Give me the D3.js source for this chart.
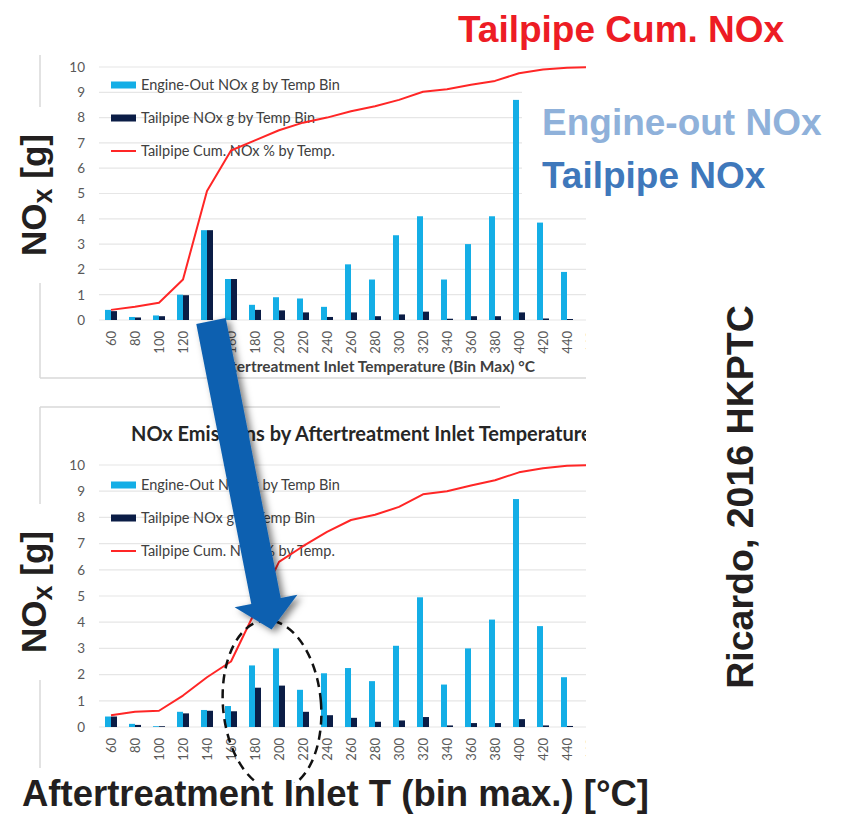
<!DOCTYPE html>
<html>
<head>
<meta charset="utf-8">
<script src="https://cdn.jsdelivr.net/npm/d3@7"></script>
<style>
html, body { margin: 0; padding: 0; background: #fff; }
svg { display: block; }
</style>
</head>
<body>
<svg id="chart" width="842" height="816"></svg>
<script>
// Temperature bins (bin max, deg C). The last bin lies past the cropped edge.
var bins = [60, 80, 100, 120, 140, 160, 180, 200, 220, 240, 260, 280, 300, 320, 340, 360, 380, 400, 420, 440, 460];

// Upper chart (baseline calibration)
var topEngineOut = [0.4, 0.12, 0.18, 1.0, 3.55, 1.62, 0.6, 0.9, 0.85, 0.52, 2.2, 1.6, 3.35, 4.1, 1.6, 3.0, 4.1, 8.7, 3.85, 1.9];
var topTailpipe = [0.35, 0.1, 0.15, 0.98, 3.55, 1.62, 0.4, 0.38, 0.3, 0.12, 0.3, 0.15, 0.22, 0.33, 0.05, 0.15, 0.15, 0.3, 0.06, 0.04];
var topCumulative = [0.4, 0.52, 0.68, 1.6, 5.1, 6.7, 7.1, 7.5, 7.8, 8.0, 8.25, 8.45, 8.7, 9.02, 9.12, 9.3, 9.45, 9.75, 9.9, 9.97, 10.0];

// Lower chart (modified calibration)
var botEngineOut = [0.4, 0.12, 0.03, 0.58, 0.65, 0.8, 2.35, 3.0, 1.42, 2.05, 2.25, 1.75, 3.1, 4.95, 1.62, 3.0, 4.1, 8.7, 3.85, 1.9];
var botTailpipe = [0.4, 0.08, 0.03, 0.52, 0.62, 0.6, 1.5, 1.58, 0.58, 0.45, 0.35, 0.2, 0.25, 0.38, 0.06, 0.15, 0.15, 0.3, 0.06, 0.04];
var botCumulative = [0.45, 0.58, 0.62, 1.2, 1.9, 2.5, 4.4, 6.3, 6.9, 7.45, 7.9, 8.1, 8.4, 8.88, 9.0, 9.22, 9.42, 9.72, 9.88, 9.97, 10.0];

var yTicks = [0, 1, 2, 3, 4, 5, 6, 7, 8, 9, 10];
var legendLabels = ["Engine-Out NOx g by Temp Bin", "Tailpipe NOx g by Temp Bin", "Tailpipe Cum. NOx % by Temp."];

var COLOR_ENGINE = "#14aee6";
var COLOR_TAILPIPE = "#0b1d46";
var COLOR_CUM = "#ff2626";
var COLOR_GRID = "#e6e6e6";
var CHART_FONT = "Lato, 'Open Sans', sans-serif";
var BIG_FONT = "'Liberation Sans', Arial, sans-serif";

var svg = d3.select("#chart");

var defs = svg.append("defs");
defs.append("clipPath").attr("id", "crop")
    .append("rect").attr("x", 0).attr("y", 0).attr("width", 586).attr("height", 816);
defs.append("clipPath").attr("id", "ellipseClip")
    .append("rect").attr("x", 0).attr("y", 0).attr("width", 842).attr("height", 783);

var shadow = defs.append("filter").attr("id", "arrowShadow")
    .attr("x", "-30%").attr("y", "-10%").attr("width", "160%").attr("height", "130%");
shadow.append("feDropShadow")
    .attr("dx", 4).attr("dy", 3).attr("stdDeviation", 3.5)
    .attr("flood-color", "#000").attr("flood-opacity", 0.5);

// band scale shared by both panels
var x = d3.scaleBand().domain(bins).range([99, 99 + 24 * bins.length]);
var barW = 6;
function cx(b) { return x(b) + x.bandwidth() / 2; }

function drawPanel(opts) {
    var g = svg.append("g").attr("clip-path", "url(#crop)");
    var y = d3.scaleLinear().domain([0, 10]).range([opts.y0, opts.y10]);

    // gridlines
    g.append("g").selectAll("line").data(yTicks).join("line")
        .attr("x1", x.range()[0]).attr("x2", x.range()[1])
        .attr("y1", function(d) { return y(d); })
        .attr("y2", function(d) { return y(d); })
        .attr("stroke", COLOR_GRID).attr("stroke-width", 1.2);

    // y axis labels
    var yAxis = g.append("g")
        .attr("transform", "translate(" + x.range()[0] + ",0)")
        .call(d3.axisLeft(y).tickValues(yTicks).tickSize(0).tickPadding(14));
    yAxis.select(".domain").remove();
    yAxis.selectAll("text")
        .style("font-family", CHART_FONT).style("font-size", "13.5px").attr("fill", "#595959");

    // x axis labels, rotated
    var xAxis = g.append("g")
        .attr("transform", "translate(0," + opts.y0 + ")")
        .call(d3.axisBottom(x).tickSize(0));
    xAxis.select(".domain").remove();
    xAxis.selectAll("text")
        .attr("transform", "rotate(-90)")
        .attr("x", -11).attr("y", 0).attr("dy", "0.35em")
        .style("text-anchor", "end")
        .style("font-family", CHART_FONT).style("font-size", "13px").attr("fill", "#595959");

    // legend (sits under the series)
    var leg = g.append("g");
    legendLabels.forEach(function(label, i) {
        var ly = opts.legendY + i * 33;
        if (i < 2) {
            leg.append("rect").attr("x", 111).attr("y", ly - 3.5).attr("width", 25).attr("height", 7)
                .attr("fill", i === 0 ? COLOR_ENGINE : COLOR_TAILPIPE);
        } else {
            leg.append("line").attr("x1", 111).attr("x2", 136).attr("y1", ly).attr("y2", ly)
                .attr("stroke", COLOR_CUM).attr("stroke-width", 2);
        }
        leg.append("text").attr("x", 141).attr("y", ly).attr("dy", "0.35em")
            .style("font-family", CHART_FONT).style("font-size", "14.5px").attr("fill", "#404040")
            .text(label);
    });

    // bars
    g.append("g").selectAll("rect").data(opts.engine).join("rect")
        .attr("x", function(d, i) { return cx(bins[i]) - barW; })
        .attr("y", function(d) { return y(d); })
        .attr("width", barW)
        .attr("height", function(d) { return y(0) - y(d); })
        .attr("fill", COLOR_ENGINE);
    g.append("g").selectAll("rect").data(opts.tailpipe).join("rect")
        .attr("x", function(d, i) { return cx(bins[i]); })
        .attr("y", function(d) { return y(d); })
        .attr("width", barW)
        .attr("height", function(d) { return y(0) - y(d); })
        .attr("fill", COLOR_TAILPIPE);

    // cumulative line
    var line = d3.line()
        .x(function(d, i) { return cx(bins[i]); })
        .y(function(d) { return y(d); });
    g.append("path").datum(opts.cumulative)
        .attr("d", line)
        .attr("fill", "none").attr("stroke", COLOR_CUM).attr("stroke-width", 2)
        .attr("stroke-linejoin", "round");
    return g;
}

// chart frame lines (light grey borders of the pasted charts)
var frame = svg.append("g").attr("stroke", "#d9d9d9").attr("stroke-width", 1.5);
frame.append("line").attr("x1", 40).attr("x2", 40).attr("y1", 55).attr("y2", 378);
frame.append("line").attr("x1", 40).attr("x2", 586).attr("y1", 378).attr("y2", 378);
frame.append("line").attr("x1", 40).attr("x2", 500).attr("y1", 407).attr("y2", 407);
frame.append("line").attr("x1", 40).attr("x2", 40).attr("y1", 407).attr("y2", 768);

var topPanel = drawPanel({ y0: 320, y10: 67, engine: topEngineOut, tailpipe: topTailpipe, cumulative: topCumulative, legendY: 85 });
var botPanel = drawPanel({ y0: 727, y10: 465, engine: botEngineOut, tailpipe: botTailpipe, cumulative: botCumulative, legendY: 485 });

// top chart x axis title
topPanel.append("text")
    .attr("x", 535).attr("y", 372)
    .style("text-anchor", "end")
    .style("font-family", CHART_FONT).style("font-size", "15.5px").style("font-weight", "bold")
    .attr("fill", "#404040")
    .text("Aftertreatment Inlet Temperature (Bin Max) °C");

// bottom chart title
botPanel.append("text")
    .attr("x", 131).attr("y", 441)
    .style("font-family", CHART_FONT).style("font-size", "20px").style("font-weight", "bold")
    .attr("fill", "#262626")
    .text("NOx Emissions by Aftertreatment Inlet Temperature");

// white box behind the series annotations
svg.append("rect").attr("x", 522).attr("y", 78).attr("width", 320).attr("height", 126).attr("fill", "#fff");

// y axis titles with subscript x, on white to break the frame
function noxLabel(cy) {
    svg.append("rect").attr("x", 14).attr("y", cy - 88).attr("width", 40).attr("height", 176).attr("fill", "#fff");
    var t = svg.append("text")
        .attr("transform", "translate(46," + cy + ") rotate(-90)")
        .style("text-anchor", "middle")
        .style("font-family", BIG_FONT).style("font-weight", "bold").style("font-size", "35px")
        .attr("fill", "#231f20");
    t.append("tspan").text("NO");
    t.append("tspan").attr("dy", 6).style("font-size", "27px").text("x");
    t.append("tspan").attr("dy", -6).text(" [g]");
}
noxLabel(195);
noxLabel(592);

// annotations
svg.append("text").attr("x", 458).attr("y", 42)
    .style("font-family", BIG_FONT).style("font-weight", "bold").style("font-size", "37px")
    .attr("fill", "#ed1c24").text("Tailpipe Cum. NOx");
svg.append("text").attr("x", 542).attr("y", 135)
    .style("font-family", BIG_FONT).style("font-weight", "bold").style("font-size", "37px")
    .attr("fill", "#8fb1da").text("Engine-out NOx");
svg.append("text").attr("x", 542).attr("y", 188)
    .style("font-family", BIG_FONT).style("font-weight", "bold").style("font-size", "37px")
    .attr("fill", "#3f78bb").text("Tailpipe NOx");
svg.append("text")
    .attr("transform", "translate(753,497) rotate(-90)")
    .style("text-anchor", "middle")
    .style("font-family", BIG_FONT).style("font-weight", "bold").style("font-size", "37.5px")
    .attr("fill", "#231f20").text("Ricardo, 2016 HKPTC");
svg.append("text").attr("x", 22).attr("y", 806)
    .style("font-family", BIG_FONT).style("font-weight", "bold").style("font-size", "36.5px")
    .attr("fill", "#231f20").text("Aftertreatment Inlet T (bin max.) [°C]");

// dashed ellipse around the moved bins
svg.append("g").attr("clip-path", "url(#ellipseClip)")
    .append("ellipse")
    .attr("transform", "translate(272,705) rotate(-5)")
    .attr("rx", 49).attr("ry", 85)
    .attr("fill", "none").attr("stroke", "#111").attr("stroke-width", 2.5)
    .attr("stroke-dasharray", "9,6");

// big arrow from upper to lower chart
var a0 = [211, 321], a1 = [266, 601];
var len = Math.hypot(a1[0] - a0[0], a1[1] - a0[1]);
var ux = (a1[0] - a0[0]) / len, uy = (a1[1] - a0[1]) / len;
var px = uy, py = -ux;
var shaftHalf = 15, headHalf = 32, headLen = 29;
function pt(base, s) { return [base[0] + px * s, base[1] + py * s]; }
var tip = [a1[0] + ux * headLen, a1[1] + uy * headLen];
var arrowPts = [pt(a0, -shaftHalf), pt(a0, shaftHalf), pt(a1, shaftHalf), pt(a1, headHalf), tip, pt(a1, -headHalf), pt(a1, -shaftHalf)];
svg.append("polygon")
    .attr("points", arrowPts.map(function(p) { return p.join(","); }).join(" "))
    .attr("fill", "#0e60b0")
    .attr("filter", "url(#arrowShadow)");
</script>
</body>
</html>
